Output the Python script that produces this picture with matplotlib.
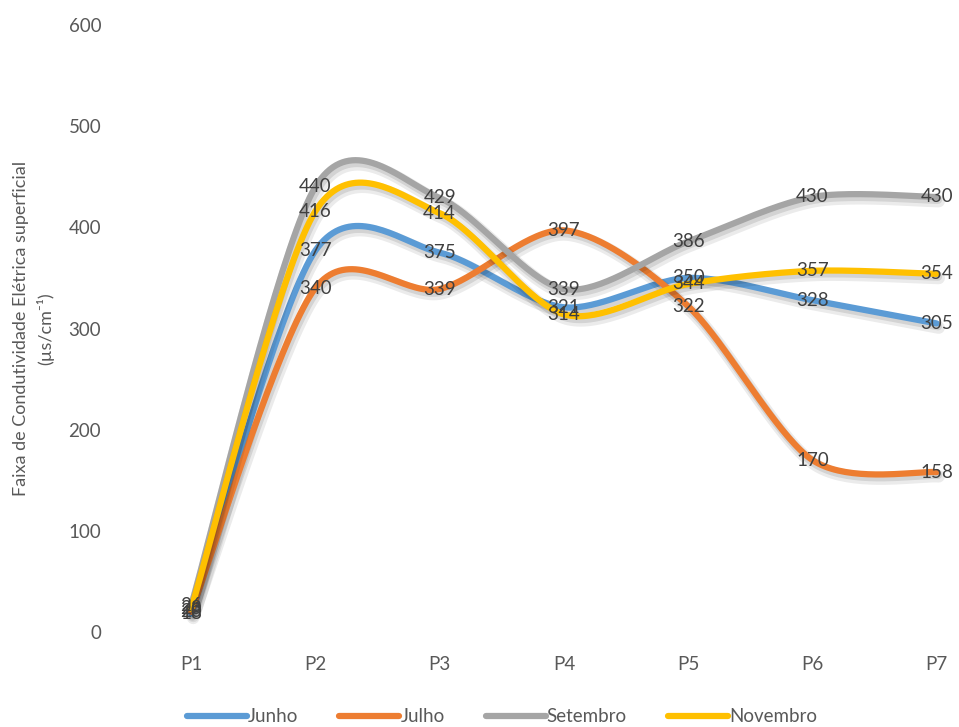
import numpy as np
import matplotlib
matplotlib.use("Agg")
import matplotlib.pyplot as plt
import matplotlib.patheffects as pe

categories = ["P1", "P2", "P3", "P4", "P5", "P6", "P7"]
junho = [18, 377, 375, 321, 350, 328, 305]
julho = [20, 340, 339, 397, 322, 170, 158]
setembro = [26, 440, 429, 339, 386, 430, 430]
novembro = [23, 416, 414, 314, 344, 357, 354]

series = [
    ("Junho", junho, "#5B9BD5"),
    ("Julho", julho, "#ED7D31"),
    ("Setembro", setembro, "#A5A5A5"),
    ("Novembro", novembro, "#FFC000"),
]

plt.rcParams["font.family"] = ["Lato", "DejaVu Sans"]


def smooth(xs, ys, n=40, k=0.145):
    """Bezier smoothing through the points (spreadsheet-style smoothed line)."""
    xs = np.asarray(xs, float)
    ys = np.asarray(ys, float)
    px = np.concatenate([[xs[0]], xs, [xs[-1]]])
    py = np.concatenate([[ys[0]], ys, [ys[-1]]])
    outx, outy = [], []
    t = np.linspace(0, 1, n)
    for i in range(1, len(px) - 2):
        p0 = np.array([px[i], py[i]])
        p3 = np.array([px[i + 1], py[i + 1]])
        c1 = p0 + (np.array([px[i + 1], py[i + 1]]) - np.array([px[i - 1], py[i - 1]])) * k
        c2 = p3 - (np.array([px[i + 2], py[i + 2]]) - np.array([px[i], py[i]])) * k
        b = ((1 - t) ** 3)[:, None] * p0 + (3 * (1 - t) ** 2 * t)[:, None] * c1 \
            + (3 * (1 - t) * t ** 2)[:, None] * c2 + (t ** 3)[:, None] * p3
        outx.extend(b[:, 0])
        outy.extend(b[:, 1])
    return np.array(outx), np.array(outy)


fig = plt.figure(figsize=(9.59, 7.27), dpi=100)
ax = fig.add_axes([129 / 959, 1 - 632 / 727, 1 - 129 / 959, (632 - 25) / 727])

x = np.arange(len(categories))
for name, vals, color in series:
    sx, sy = smooth(x, vals)
    ax.plot(sx, sy, color=color, lw=4.5, solid_capstyle="round", label=name,
            path_effects=[pe.SimpleLineShadow(offset=(1.5, -3), shadow_color="black", alpha=0.08, linewidth=9),
                          pe.SimpleLineShadow(offset=(1.0, -2), shadow_color="black", alpha=0.10, linewidth=6),
                          pe.Normal()], zorder=3)

for name, vals, color in series:
    for xi, v in zip(x, vals):
        ax.text(xi, v, str(v), ha="center", va="center", fontsize=13.5, color="#404040", zorder=5)

ax.set_ylim(0, 600)
ax.set_xlim(-0.5, 6.18)
ax.set_yticks(np.arange(0, 601, 100))
ax.set_xticks(x)
ax.set_xticklabels(categories)
ax.tick_params(axis="both", length=0, labelsize=13.5, colors="#595959")
ax.tick_params(axis="y", pad=20)
ax.tick_params(axis="x", pad=17)
for s in ax.spines.values():
    s.set_visible(False)

ax.set_ylabel("Faixa de Condutividade Elétrica superficial\n(µs/cm⁻¹)",
              fontsize=13, color="#595959", labelpad=10, linespacing=1.5)

handles, labels = ax.get_legend_handles_labels()
leg = fig.legend(handles, labels, loc="center", bbox_to_anchor=(502 / 959, 1 - 717 / 727),
                 ncol=4, frameon=False, fontsize=13.5, handlelength=3.2, handletextpad=0.05,
                 columnspacing=2.2, labelcolor="#595959")
for line in leg.get_lines():
    line.set_path_effects([pe.Normal()])
    line.set_linewidth(4.5)

fig.savefig("out.png", dpi=100)
